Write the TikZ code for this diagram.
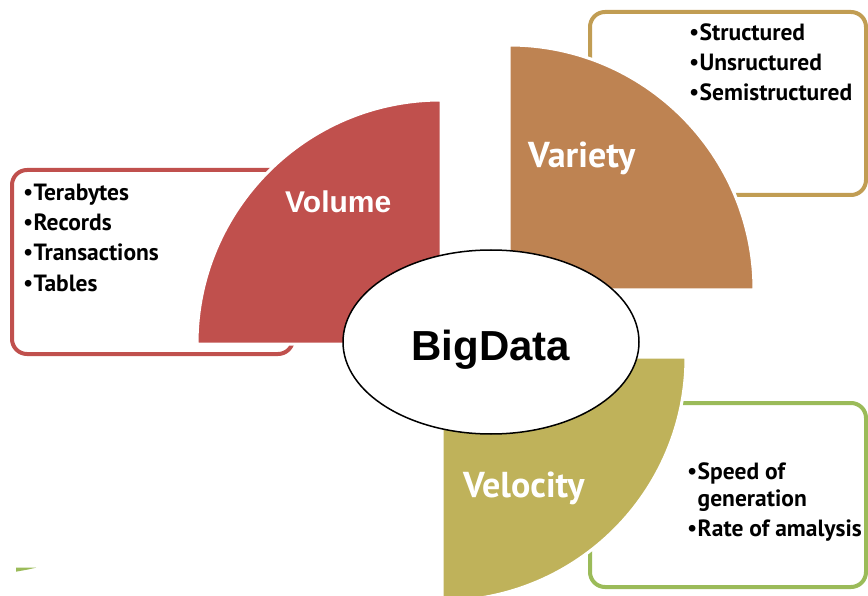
\documentclass[tikz,border=0pt]{standalone}
\usepackage{fontspec}
\setmainfont{Liberation Sans}
\newfontfamily\ptsans{PT Sans}
\newfontfamily\bulfont{Liberation Sans}
\usetikzlibrary{shapes.geometric}
\definecolor{volred}{RGB}{192,80,77}
\definecolor{varorange}{RGB}{190,131,82}
\definecolor{velolive}{RGB}{191,178,90}
\definecolor{boxgold}{RGB}{193,157,83}
\definecolor{boxgreen}{RGB}{155,187,89}
\tikzset{
  listbox/.style={line width=4pt, rounded corners=15pt},
  quarter/.style={draw=white, line width=3pt},
  biglabel/.style={text=white, font=\ptsans\bfseries\fontsize{36}{40}\selectfont, inner sep=0pt, anchor=base west},
  bulletline/.style={font=\ptsans\bfseries\fontsize{23.5}{26}\selectfont, inner sep=0pt, anchor=base west},
}
\newcommand{\bul}{\makebox[9.5pt][l]{\bulfont\bfseries •}}
\begin{document}
\begin{tikzpicture}[x=1pt,y=-1pt]
\useasboundingbox[fill=white] (0,0) rectangle (868,596);
% outer list boxes
\draw[listbox, draw=boxgold] (590,12) rectangle (866,195);
\draw[listbox, draw=volred] (12,170) rectangle (293,354);
\draw[listbox, draw=boxgreen] (590,403) rectangle (866,587);
% small green sliver bottom-left
\fill[boxgreen] (16,567.7) -- (36,567.7) -- (28,569.5) -- (16,571.7) -- cycle;
% quarter circles
\filldraw[quarter, fill=volred] (441,344) -- (197,344) arc[start angle=180, end angle=270, radius=244] -- cycle;
\filldraw[quarter, fill=varorange] (509,290) -- (509,45) arc[start angle=270, end angle=360, radius=245] -- cycle;
\filldraw[quarter, fill=velolive] (442,357) -- (686,357) arc[start angle=0, end angle=90, radius=244] -- cycle;
% central ellipse
\node[ellipse, draw=black, line width=1.5pt, fill=white, minimum width=296pt, minimum height=184pt, inner sep=0pt] (bd) at (491,342) {};
\node[anchor=base, inner sep=0pt, font=\bfseries\fontsize{42}{48}\selectfont] (bdtext) at (491,360) {BigData};
% quarter labels
\node[inner sep=0pt, anchor=base west, text=white, font=\bfseries\fontsize{30}{36}\selectfont] (volume) at (285,213) {Volume};
\node[biglabel] (variety) at (528,168) {Variety};
\node[biglabel] (velocity) at (463,497) {Velocity};
% variety list
\node[bulletline] (v1) at (690,40.7) {\bul Structured};
\node[bulletline] (v2) at (690,70.7) {\bul Unsructured};
\node[bulletline] (v3) at (690,101) {\bul Semistructured};
% volume list
\node[bulletline] (o1) at (24,200.7) {\bul Terabytes};
\node[bulletline] (o2) at (24,230.7) {\bul Records};
\node[bulletline] (o3) at (24,261) {\bul Transactions};
\node[bulletline] (o4) at (24,291.7) {\bul Tables};
% velocity list
\node[bulletline] (e1) at (688,479.3) {\bul Speed of};
\node[bulletline] (e2) at (697.5,506.7) {generation};
\node[bulletline] (e3) at (688,536.7) {\bul Rate of amalysis};
\end{tikzpicture}
\end{document}
